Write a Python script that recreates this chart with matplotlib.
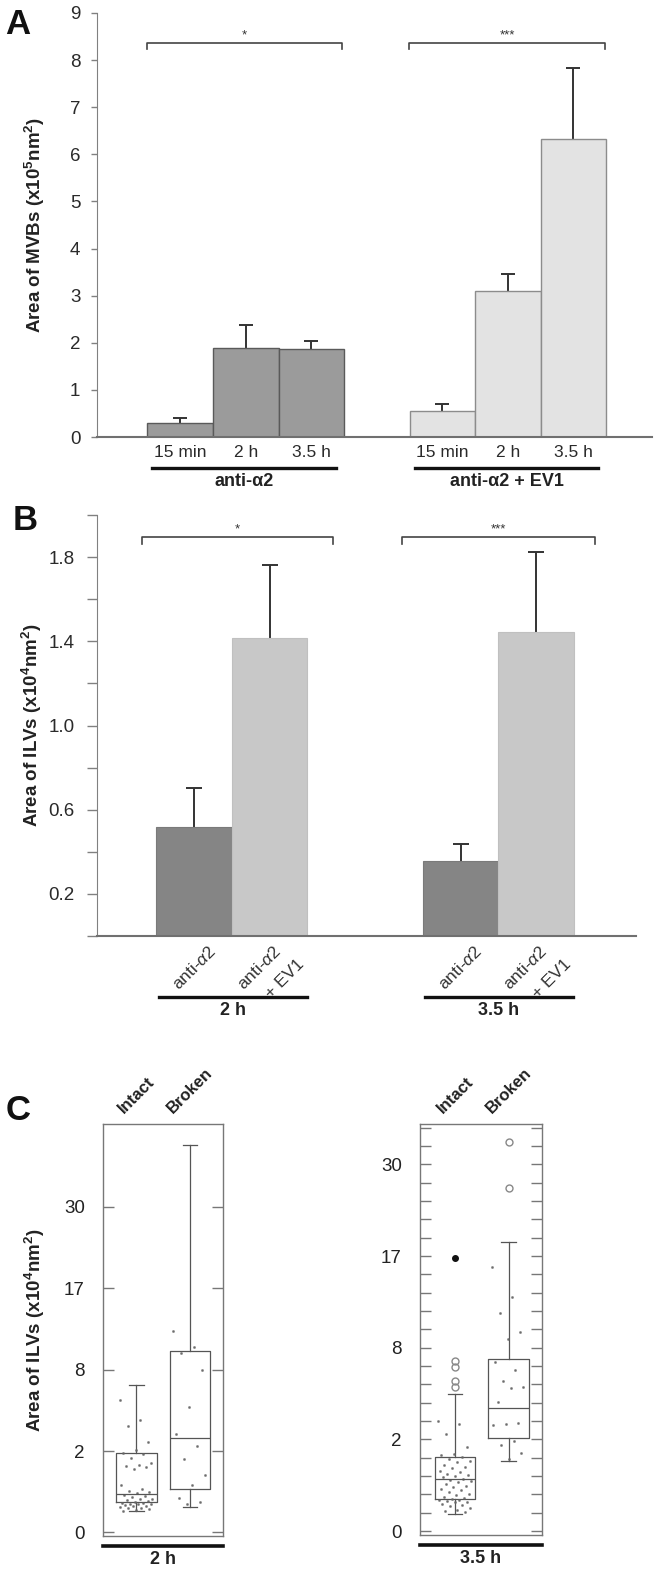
import matplotlib
matplotlib.use('Agg')
import matplotlib.pyplot as plt
from matplotlib.transforms import offset_copy
import numpy as np

plt.rcParams['font.family'] = ['Liberation Sans', 'DejaVu Sans']
plt.rcParams['mathtext.fontset'] = 'custom'
plt.rcParams['mathtext.rm'] = 'Liberation Sans'
plt.rcParams['mathtext.it'] = 'Liberation Sans:italic'
plt.rcParams['mathtext.bf'] = 'Liberation Sans:bold'

# ---- data: panel A (area of MVBs, x10^5 nm^2)
a_times = ['15 min', '2 h', '3.5 h']
a_groups = ['anti-α2', 'anti-α2 + EV1']
a_means_ab = [0.30, 1.89, 1.86]
a_err_ab = [0.11, 0.48, 0.17]
a_means_ev = [0.56, 3.09, 6.33]
a_err_ev = [0.15, 0.36, 1.51]
a_stars = ['*', '***']

# ---- data: panel B (area of ILVs, x10^4 nm^2)
b_groups = ['2 h', '3.5 h']
b_cond1 = r'anti-$\alpha$2'
b_cond2_extra = '+ EV1'
b_means_ab = [0.517, 0.358]
b_err_ab = [0.187, 0.08]
b_means_ev = [1.417, 1.443]
b_err_ev = [0.345, 0.381]
b_stars = ['*', '***']

# ---- data: panel C (box plots, x10^4 nm^2)
c_cats = ['Intact', 'Broken']
c_groups = ['2 h', '3.5 h']
c2h_intact = dict(med=0.43, q1=0.27, q3=1.84, whislo=0.135, whishi=6.33, fliers=[])
c2h_broken = dict(med=2.6, q1=0.55, q3=9.6, whislo=0.19, whishi=43.7, fliers=[])
c35_intact = dict(med=0.63, q1=0.23, q3=1.26, whislo=0.07, whishi=4.3, fliers=[6.68, 6.16, 5.15, 4.75])
c35_broken = dict(med=3.46, q1=1.99, q3=6.77, whislo=1.14, whishi=19.2, fliers=[34.8, 27.0])
c35_intact_extreme = [17.2]
c2h_intact_pts = [5.1, 3.7, 3.3, 2.4, 2.0, 1.84, 1.8, 1.6, 1.41, 1.33, 1.3, 1.23, 1.18, 0.67, 0.56,
                  0.5, 0.47, 0.45, 0.4, 0.38, 0.36, 0.33, 0.32, 0.3, 0.28, 0.27, 0.26, 0.25, 0.24,
                  0.24, 0.23, 0.22, 0.21, 0.2, 0.19, 0.18, 0.17, 0.16, 0.15, 0.14]
c2h_broken_pts = [11.8, 10.0, 9.4, 7.7, 4.6, 2.8, 2.2, 1.58, 0.97, 0.67, 0.34, 0.27, 0.23]
c35_intact_pts = [2.78, 2.63, 2.18, 1.63, 1.37, 1.34, 1.25, 1.2, 1.14, 1.1, 1.0, 0.95, 0.9, 0.84,
                  0.8, 0.75, 0.73, 0.7, 0.66, 0.63, 0.6, 0.58, 0.55, 0.5, 0.47, 0.44, 0.4, 0.38,
                  0.35, 0.32, 0.3, 0.27, 0.25, 0.24, 0.22, 0.22, 0.21, 0.2, 0.19, 0.17, 0.16,
                  0.14, 0.12, 0.1, 0.09, 0.08]
c35_broken_pts = [16.0, 12.6, 10.9, 9.1, 8.5, 6.6, 6.0, 5.2, 4.8, 4.7, 3.8, 2.7, 2.65, 2.6,
                  1.87, 1.7, 1.41, 1.2]
c_tick_labels = ['0', '2', '8', '17', '30']

W, H = 662, 1575
fig = plt.figure(figsize=(W / 100, H / 100), dpi=100)


def box(x0, y0, x1, y1):
    # pixel box -> figure fraction
    return [x0 / W, 1 - y1 / H, (x1 - x0) / W, (y1 - y0) / H]


AX_GRAY = '#808080'
TXT = '#2a2a2a'

# ================= Panel A =================
axA = fig.add_axes(box(97, 13, 652, 437))
xa1 = np.arange(3)
xa2 = np.arange(3) + 4
axA.bar(xa1, a_means_ab, width=1.0, color='#9b9b9b', edgecolor='#5a5a5a', linewidth=1.0, zorder=2)
axA.bar(xa2, a_means_ev, width=1.0, color='#e3e3e3', edgecolor='#8c8c8c', linewidth=1.0, zorder=2)
axA.errorbar(xa1, a_means_ab, yerr=a_err_ab, fmt='none', ecolor='#333333',
             capsize=5, elinewidth=1.4, capthick=1.4, zorder=1)
axA.errorbar(xa2, a_means_ev, yerr=a_err_ev, fmt='none', ecolor='#333333',
             capsize=5, elinewidth=1.4, capthick=1.4, zorder=1)
axA.set_xlim(-1.27, 7.20)
axA.set_ylim(0, 9)
axA.set_yticks(range(10))
axA.set_xticks(list(xa1) + list(xa2))
axA.set_xticklabels(a_times * 2, fontsize=12.5, color=TXT)
axA.tick_params(axis='x', length=0, pad=6)
axA.tick_params(axis='y', length=4, width=1, color=AX_GRAY, labelsize=13.5, labelcolor=TXT, pad=8)
for s in ['top', 'right']:
    axA.spines[s].set_visible(False)
axA.spines['left'].set_color(AX_GRAY)
axA.spines['bottom'].set_color('#707070')
axA.spines['bottom'].set_linewidth(1.5)
axA.set_ylabel(r'Area of MVBs (x10$^\mathbf{5}$nm$^\mathbf{2}$)', fontsize=13.5, fontweight='bold', color='#222222')
axA.yaxis.set_label_coords(-0.090, 0.5)

# brackets
for (xl, xr), st in zip([(-0.5, 2.47), (3.49, 6.49)], a_stars):
    axA.plot([xl, xl, xr, xr], [8.24, 8.36, 8.36, 8.24], color='#444444', lw=1.2, clip_on=False)
    axA.text((xl + xr) / 2, 8.39, st, ha='center', va='bottom', fontsize=9.5, color='#333333')

# group labels
tA = axA.get_xaxis_transform()
for (xl, xr), g in zip([(-0.43, 2.38), (3.58, 6.38)], a_groups):
    axA.plot([xl, xr], [-0.073, -0.073], color='#111111', lw=2.4, transform=tA, clip_on=False)
    axA.text((xl + xr) / 2, -0.106, g, ha='center', va='center', fontsize=13,
             fontweight='bold', color='#222222', transform=tA)

# ================= Panel B =================
axB = fig.add_axes(box(97, 515, 636, 936))
xb1 = np.array([0, 3.53])
xb2 = xb1 + 1
axB.bar(xb1, b_means_ab, width=1.0, color='#858585', edgecolor='#7a7a7a', linewidth=0.8, zorder=2)
axB.bar(xb2, b_means_ev, width=1.0, color='#c8c8c8', edgecolor='#c0c0c0', linewidth=0.8, zorder=2)
axB.errorbar(xb1, b_means_ab, yerr=b_err_ab, fmt='none', ecolor='#333333',
             capsize=6, elinewidth=1.4, capthick=1.4, zorder=1)
axB.errorbar(xb2, b_means_ev, yerr=b_err_ev, fmt='none', ecolor='#333333',
             capsize=6, elinewidth=1.4, capthick=1.4, zorder=1)
axB.set_xlim(-1.285, 5.854)
axB.set_ylim(0, 2.0)
axB.set_yticks([0.2, 0.6, 1.0, 1.4, 1.8])
axB.set_yticklabels(['0.2', '0.6', '1.0', '1.4', '1.8'])
axB.set_yticks([0.0, 0.4, 0.8, 1.2, 1.6, 2.0], minor=True)
axB.set_xticks([])
axB.tick_params(axis='y', which='both', length=7, width=1, color=AX_GRAY, labelsize=13.5,
                labelcolor=TXT, pad=9)
for s in ['top', 'right']:
    axB.spines[s].set_visible(False)
axB.spines['left'].set_color(AX_GRAY)
axB.spines['bottom'].set_color('#707070')
axB.spines['bottom'].set_linewidth(1.5)
axB.set_ylabel(r'Area of ILVs (x10$^\mathbf{4}$nm$^\mathbf{2}$)', fontsize=13.5, fontweight='bold', color='#222222')
axB.yaxis.set_label_coords(-0.098, 0.5)

for (xl, xr), st in zip([(-0.69, 1.84), (2.75, 5.31)], b_stars):
    axB.plot([xl, xl, xr, xr], [1.862, 1.897, 1.897, 1.862], color='#444444', lw=1.2, clip_on=False)
    axB.text((xl + xr) / 2, 1.905, st, ha='center', va='bottom', fontsize=9.5, color='#333333')

tB = axB.get_xaxis_transform()
tB_ev = offset_copy(tB, fig=fig, x=24, y=-14, units='dots')
for i in range(2):
    axB.text(xb1[i] + 0.18, -0.016, b_cond1, rotation=45, rotation_mode='anchor', ha='right',
             va='top', fontsize=12.5, color='#333333', transform=tB)
    axB.text(xb2[i] + 0.04, -0.016, b_cond1, rotation=45, rotation_mode='anchor', ha='right',
             va='top', fontsize=12.5, color='#333333', transform=tB)
    axB.text(xb2[i] + 0.04, -0.016, b_cond2_extra, rotation=45, rotation_mode='anchor', ha='right',
             va='top', fontsize=12.5, color='#333333', transform=tB_ev)
for (xl, xr), g in zip([(-0.46, 1.50), (3.06, 5.02)], b_groups):
    axB.plot([xl, xr], [-0.146, -0.146], color='#111111', lw=2.4, transform=tB, clip_on=False)
    axB.text((xl + xr) / 2, -0.178, g, ha='center', va='center', fontsize=13,
             fontweight='bold', color='#222222', transform=tB)

# ================= Panel C =================
fwd = lambda v: np.sign(v) * np.sqrt(np.abs(v))
inv = lambda v: np.sign(v) * v ** 2
c_step = 1.39
c_ticks = [(k * c_step) ** 2 for k in range(5)]


def jitter(n, width):
    return ((np.arange(n) * 0.618034) % 1.0 - 0.5) * width


def panel_c(rect, xlim, ylim_top, stats, pts, minor, group, ylabel):
    ax = fig.add_axes(rect)
    ax.set_yscale('function', functions=(fwd, inv))
    ax.bxp(stats, positions=[1, 2], widths=0.76, showfliers=True, capwidths=0.28,
           boxprops=dict(color='#555555', lw=0.9),
           medianprops=dict(color='#555555', lw=0.9),
           whiskerprops=dict(color='#555555', lw=0.9),
           capprops=dict(color='#555555', lw=0.9),
           flierprops=dict(marker='o', markersize=5, markerfacecolor='none',
                           markeredgecolor='#888888', markeredgewidth=1.0))
    for pos, p in zip([1, 2], pts):
        ax.plot(pos + jitter(len(p), 0.62), p, ls='none', marker='s', markersize=0.9,
                color='#666666', alpha=0.8)
    ax.set_xlim(*xlim)
    ax.set_ylim(inv(-0.06), ylim_top)
    ax.set_yticks(c_ticks)
    ax.set_yticklabels(c_tick_labels)
    if minor:
        ax.set_yticks([(j * c_step / 5) ** 2 for j in range(23)], minor=True)
    ax.set_xticks([])
    ax.tick_params(axis='y', which='both', direction='in', left=True, right=True, length=8,
                   width=1, color='#777777', labelsize=13.5, labelcolor='#222222', pad=13)
    for s in ax.spines.values():
        s.set_color('#777777')
        s.set_linewidth(1.0)
    for pos, cat in zip([1, 2], c_cats):
        ax.text(pos, 1.02, cat, rotation=45, ha='center', va='bottom', fontsize=12,
                fontweight='bold', color='#222222', transform=ax.get_xaxis_transform())
    t = ax.get_xaxis_transform()
    ax.plot(xlim, [-0.024, -0.024], color='#111111', lw=2.6, transform=t, clip_on=False)
    ax.text(np.mean(xlim), -0.058, group, ha='center', va='center', fontsize=13,
            fontweight='bold', color='#222222', transform=t)
    if ylabel:
        ax.set_ylabel(r'Area of ILVs (x10$^\mathbf{4}$nm$^\mathbf{2}$)', fontsize=13.5,
                      fontweight='bold', color='#222222')
        ax.yaxis.set_label_coords(-0.47, 0.5)
    return ax


axC1 = panel_c(box(103, 1124, 223, 1536), (0.374, 2.617), 48.6,
               [c2h_intact, c2h_broken], [c2h_intact_pts, c2h_broken_pts], False, c_groups[0], True)
axC2 = panel_c(box(420, 1124, 542, 1535), (0.346, 2.626), 38.1,
               [c35_intact, c35_broken], [c35_intact_pts, c35_broken_pts], True, c_groups[1], False)
axC2.plot([1] * len(c35_intact_extreme), c35_intact_extreme, ls='none', marker='o',
          markersize=4, color='#111111')

# panel letters
fig.text(18 / W, 1 - 25 / H, 'A', fontsize=25, fontweight='bold', ha='center', va='center', color='#111111')
fig.text(25 / W, 1 - 521 / H, 'B', fontsize=25, fontweight='bold', ha='center', va='center', color='#111111')
fig.text(18 / W, 1 - 1110 / H, 'C', fontsize=25, fontweight='bold', ha='center', va='center', color='#111111')

fig.savefig('out.png', dpi=100)
